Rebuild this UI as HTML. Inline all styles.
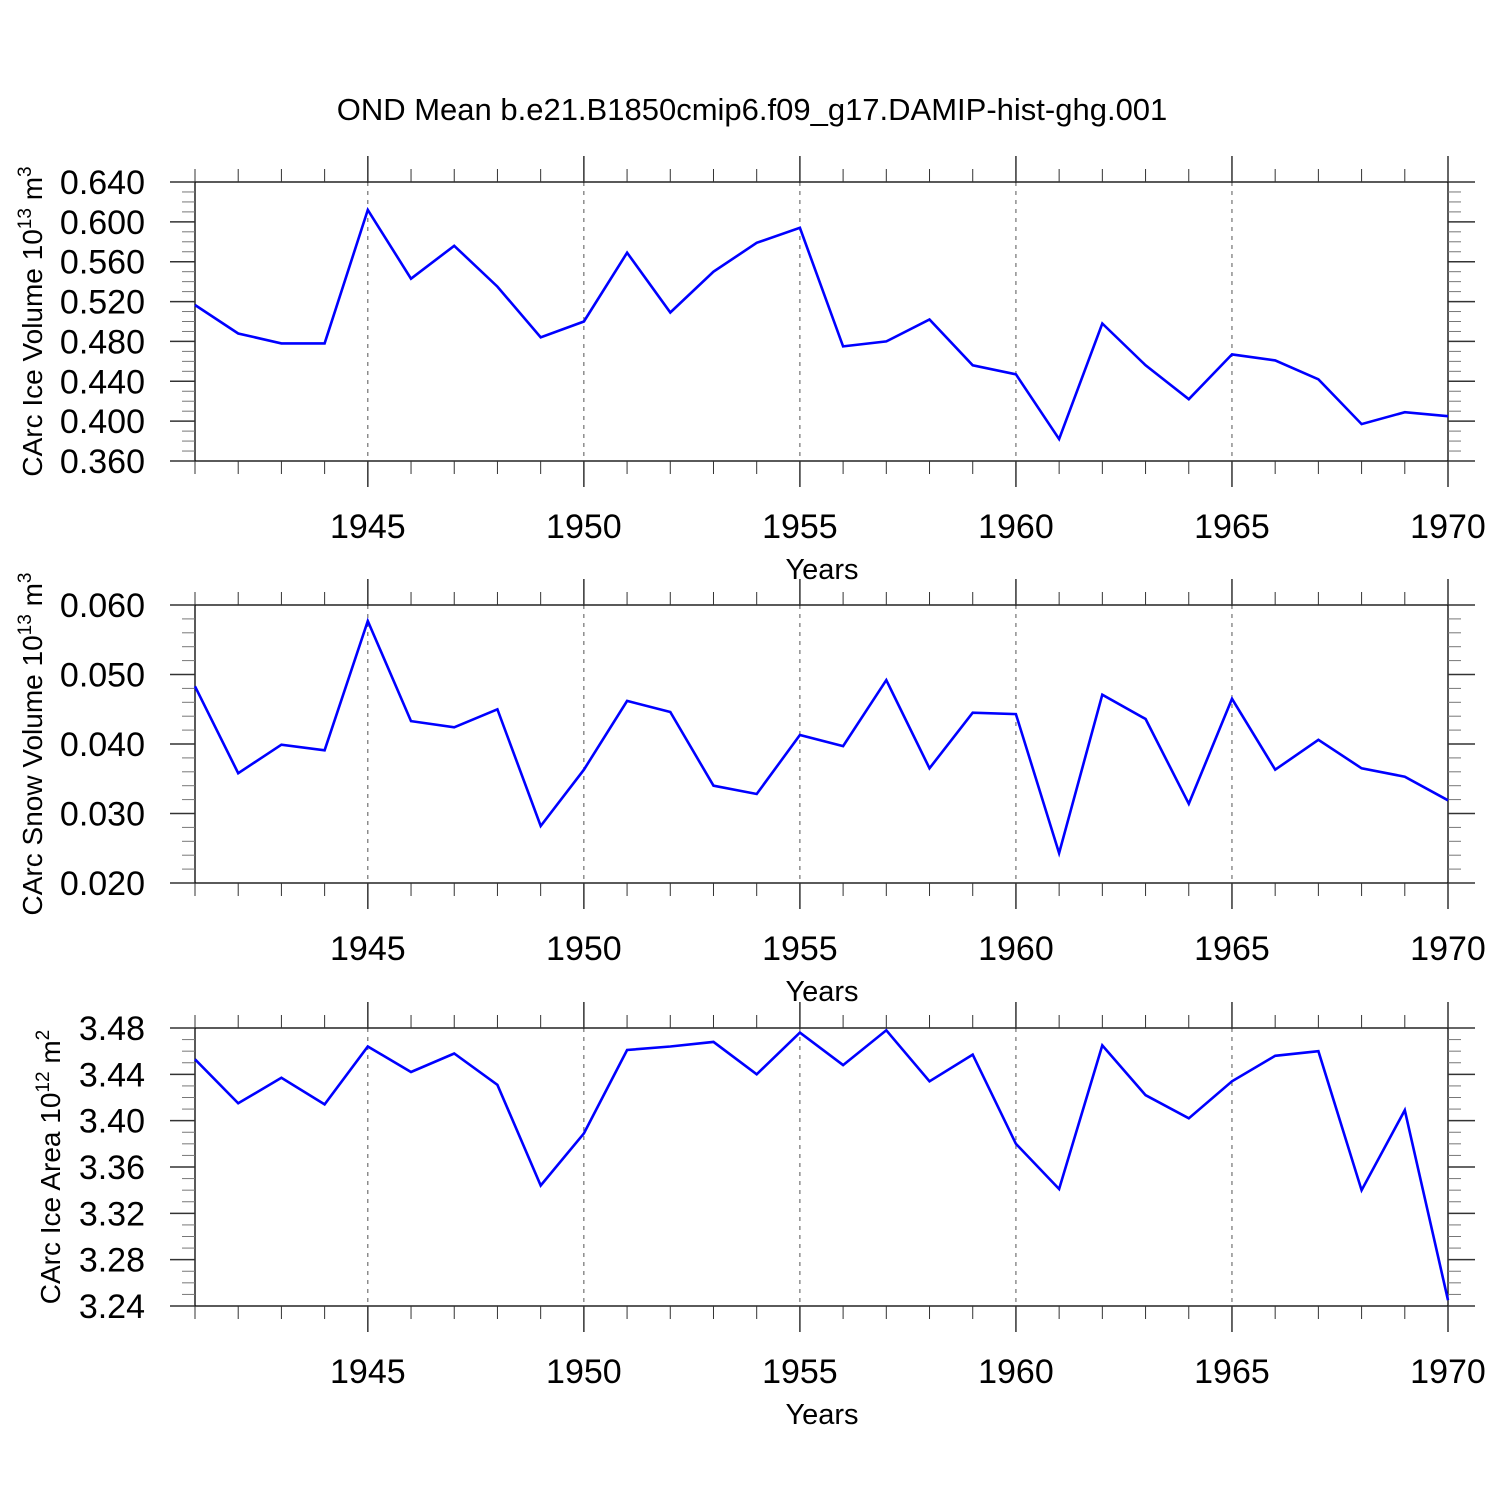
<!DOCTYPE html>
<html><head><meta charset="utf-8"><style>
html,body{margin:0;padding:0;background:#fff}
svg{display:block}
text{font-family:"Liberation Sans",Arial,sans-serif;fill:#000}
</style></head><body>
<svg id="chart" width="1500" height="1500" viewBox="0 0 1500 1500">
<text x="752" y="120" font-size="31" text-anchor="middle">OND Mean b.e21.B1850cmip6.f09_g17.DAMIP-hist-ghg.001</text>
</svg>
<script>
const years = [1941,1942,1943,1944,1945,1946,1947,1948,1949,1950,1951,1952,1953,1954,1955,1956,1957,1958,1959,1960,1961,1962,1963,1964,1965,1966,1967,1968,1969,1970];
const iceVolume = [0.5166,0.488,0.478,0.478,0.612,0.543,0.576,0.535,0.484,0.500,0.569,0.509,0.550,0.579,0.594,0.475,0.480,0.502,0.456,0.447,0.382,0.498,0.456,0.422,0.467,0.461,0.442,0.397,0.409,0.405];
const snowVolume = [0.0483,0.0358,0.0399,0.0391,0.0577,0.0433,0.0424,0.0450,0.0282,0.0363,0.0462,0.0446,0.0340,0.0328,0.0413,0.0397,0.0492,0.0365,0.0445,0.0443,0.0243,0.0471,0.0436,0.0314,0.0465,0.0363,0.0406,0.0365,0.0353,0.0319];
const iceArea = [3.453,3.415,3.437,3.414,3.464,3.442,3.458,3.431,3.344,3.389,3.461,3.464,3.468,3.440,3.476,3.448,3.478,3.434,3.457,3.380,3.341,3.465,3.422,3.402,3.434,3.456,3.460,3.340,3.409,3.245];
const xTickLabels = [1945,1950,1955,1960,1965,1970];
const iceVolTicks = [0.36,0.40,0.44,0.48,0.52,0.56,0.60,0.64];
const snowVolTicks = [0.02,0.03,0.04,0.05,0.06];
const iceAreaTicks = [3.24,3.28,3.32,3.36,3.40,3.44,3.48];

const NS='http://www.w3.org/2000/svg';
const svg=document.getElementById('chart');
function mk(tag,attrs,parent){const e=document.createElementNS(NS,tag);for(const k in attrs)e.setAttribute(k,attrs[k]);(parent||svg).appendChild(e);return e;}
const XL=195,XR=1448;
function xs(yr){return XL+(yr-1941)/(1970-1941)*(XR-XL);}

function panel(name,top,bottom,ymin,ymax,ticks,minorPer,dec,values,titleMain,titleSup,titleUnit,titleX,lblRight){
  const g=mk('g',{});
  
  
  const ys=v=>bottom-(v-ymin)/(ymax-ymin)*(bottom-top);
  for(const yr of xTickLabels){ if(yr===1970) continue;
    const l=mk('line',{x1:xs(yr),x2:xs(yr),y1:top,y2:bottom,stroke:'#555','stroke-width':1,'stroke-dasharray':'4,5'},g);
    
    
  }
  const fr=mk('rect',{x:XL,y:top,width:XR-XL,height:bottom-top,fill:'none',stroke:'#000','stroke-width':1.3},g);
  
  
  for(let yr=1941;yr<=1970;yr++){
    const major=yr%5===0; const len=major?26:13; const x=xs(yr);
    mk('line',{x1:x,x2:x,y1:top,y2:top-len,stroke:'#333','stroke-width':major?1.5:1},g);
    mk('line',{x1:x,x2:x,y1:bottom,y2:bottom+len,stroke:'#333','stroke-width':major?1.5:1},g);
  }
  for(const yr of xTickLabels){
    const t=mk('text',{x:xs(yr),y:bottom+77,'font-size':34,'text-anchor':'middle'},g);
    t.textContent=yr;
    
    
  }
  const xt=mk('text',{x:822,y:bottom+118,'font-size':29,'text-anchor':'middle'},g);
  xt.textContent='Years';
  
  
  const step=ticks[1]-ticks[0];
  for(let i=0;i<ticks.length;i++){
    const y=ys(ticks[i]);
    mk('line',{x1:XL-25,x2:XL,y1:y,y2:y,stroke:'#333','stroke-width':1.5},g);
    mk('line',{x1:XR,x2:XR+27,y1:y,y2:y,stroke:'#333','stroke-width':1.5},g);
    const t=mk('text',{x:lblRight,y:y+12,'font-size':34,'text-anchor':'end'},g);
    t.textContent=ticks[i].toFixed(dec);
    
    
    if(i<ticks.length-1){
      for(let m=1;m<=minorPer;m++){
        const ym=ys(ticks[i]+step*m/(minorPer+1));
        mk('line',{x1:XL-13,x2:XL,y1:ym,y2:ym,stroke:'#777','stroke-width':1},g);
        mk('line',{x1:XR,x2:XR+13,y1:ym,y2:ym,stroke:'#777','stroke-width':1},g);
      }
    }
  }
  const cy=(top+bottom)/2;
  const yt=mk('text',{x:titleX,y:cy,'font-size':28,'text-anchor':'middle',transform:`rotate(-90 ${titleX} ${cy})`},g);
  
  
  yt.appendChild(document.createTextNode(titleMain));
  const s=mk('tspan',{dy:-11,'font-size':19},yt); s.textContent=titleSup;
  const u=mk('tspan',{dy:11},yt); u.textContent=' m';
  const s2=mk('tspan',{dy:-11,'font-size':19},yt); s2.textContent=titleUnit;
  const pts=values.map((v,i)=>xs(years[i]).toFixed(1)+','+ys(v).toFixed(1)).join(' ');
  const pl=mk('polyline',{points:pts,fill:'none',stroke:'#0000ff','stroke-width':2.6,'stroke-linejoin':'miter'},g);
  
  
}
panel('ice-volume',182,461,0.36,0.64,iceVolTicks,3,3,iceVolume,'CArc Ice Volume 10','13','3',42,145);
panel('snow-volume',605,883,0.02,0.06,snowVolTicks,4,3,snowVolume,'CArc Snow Volume 10','13','3',42,145);
panel('ice-area',1028,1306,3.24,3.48,iceAreaTicks,3,2,iceArea,'CArc Ice Area 10','12','2',60,145);
</script>
</body></html>
